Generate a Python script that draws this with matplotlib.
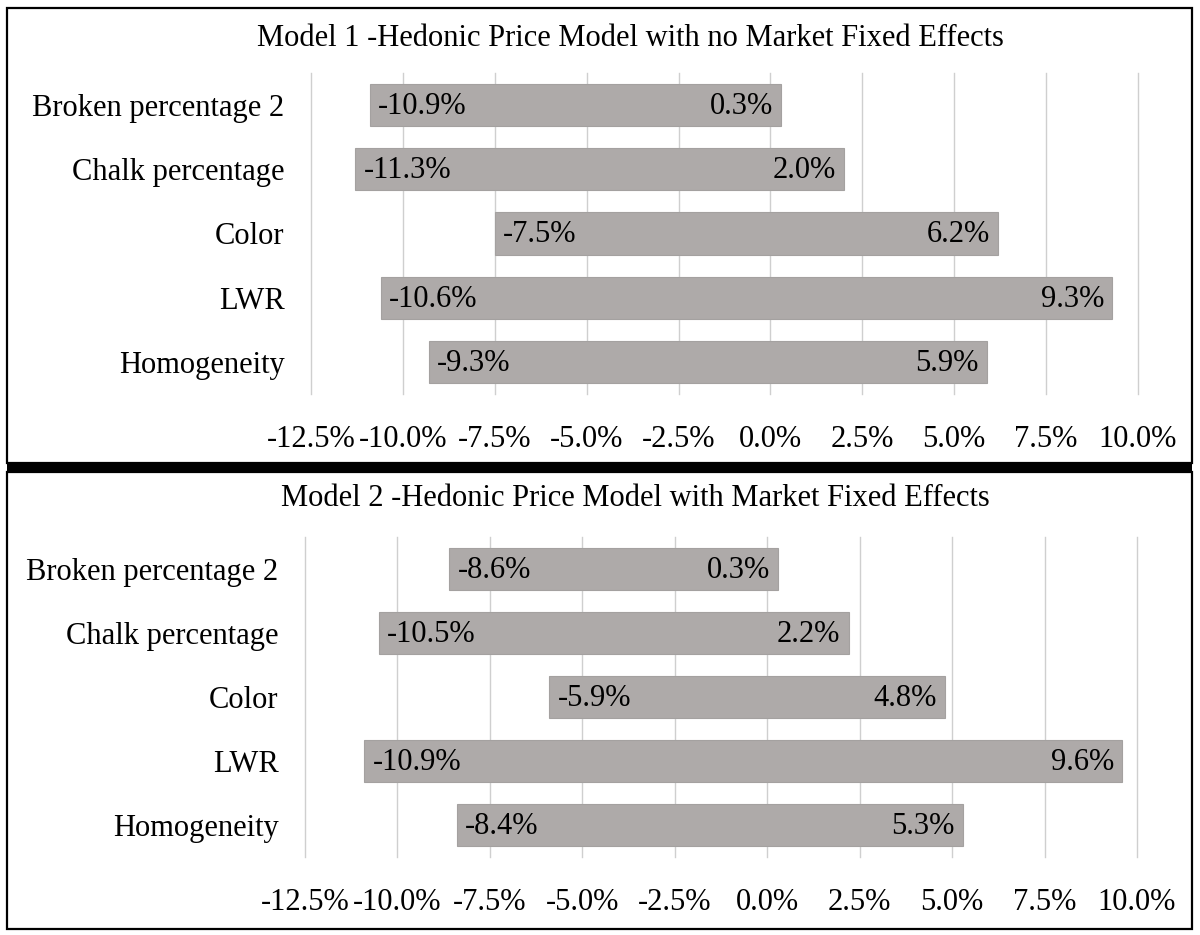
import matplotlib.pyplot as plt
from matplotlib.patches import Rectangle

plt.rcParams['font.family'] = ['Liberation Serif', 'DejaVu Serif']

# data (percent)
categories = ['Broken percentage 2', 'Chalk percentage', 'Color', 'LWR', 'Homogeneity']
m1_low = [-10.9, -11.3, -7.5, -10.6, -9.3]
m1_high = [0.3, 2.0, 6.2, 9.3, 5.9]
m2_low = [-8.6, -10.5, -5.9, -10.9, -8.4]
m2_high = [0.3, 2.2, 4.8, 9.6, 5.3]
titles = ['Model 1 -Hedonic Price Model with no Market Fixed Effects',
          'Model 2 -Hedonic Price Model with Market Fixed Effects']
xticks = [-12.5, -10.0, -7.5, -5.0, -2.5, 0.0, 2.5, 5.0, 7.5, 10.0]

W, H = 1200, 935
fig = plt.figure(figsize=(W / 100, H / 100), dpi=100)

bar_color = '#aeaaa9'
fs = 22


def px(x0, y0, x1, y1):
    # pixel box -> figure fraction [left, bottom, width, height]
    return [x0 / W, 1 - y1 / H, (x1 - x0) / W, (y1 - y0) / H]


def draw_panel(ax, low, high):
    ypos = list(range(len(categories)))
    widths = [h - l for l, h in zip(low, high)]
    ax.barh(ypos, widths, left=low, height=0.66, color=bar_color,
            edgecolor='#a4a1a0', linewidth=0.8, zorder=2)
    for y, l, h in zip(ypos, low, high):
        ax.annotate(f'{l:.1f}%', (l, y), xytext=(6, -1), textcoords='offset points',
                    ha='left', va='center', fontsize=fs, zorder=3)
        ax.annotate(f'{h:.1f}%', (h, y), xytext=(-6, -1), textcoords='offset points',
                    ha='right', va='center', fontsize=fs, zorder=3)
    ax.set_xlim(xticks[0], xticks[-1])
    ax.set_ylim(len(categories) - 0.5, -0.5)
    ax.set_xticks(xticks)
    ax.set_xticklabels([f'{t:.1f}%' for t in xticks])
    ax.set_yticks(ypos)
    ax.set_yticklabels(categories)
    ax.tick_params(axis='both', length=0, labelsize=fs)
    ax.tick_params(axis='x', pad=22)
    ax.tick_params(axis='y', pad=19)
    ax.grid(axis='x', color='#cfcfcf', linewidth=1.0, zorder=0)
    for g in ax.get_xgridlines():
        g.set_clip_on(False)
    for s in ax.spines.values():
        s.set_visible(False)


ax1 = fig.add_axes(px(311, 73, 1138, 394))
draw_panel(ax1, m1_low, m1_high)
ax2 = fig.add_axes(px(305, 537, 1137, 857))
draw_panel(ax2, m2_low, m2_high)

fig.text(630 / W, 1 - 38 / H, titles[0], ha='center', va='center', fontsize=fs)
fig.text(635 / W, 1 - 498 / H, titles[1], ha='center', va='center', fontsize=fs)

# panel frames and the thick separator
for (x0, y0, x1, y1) in [(7, 8, 1192, 463), (7, 472, 1192, 929)]:
    b = px(x0, y0, x1, y1)
    fig.add_artist(Rectangle((b[0], b[1]), b[2], b[3], transform=fig.transFigure,
                             fill=False, edgecolor='black', linewidth=1.6))
b = px(7, 462, 1192, 473)
fig.add_artist(Rectangle((b[0], b[1]), b[2], b[3], transform=fig.transFigure,
                         facecolor='black', edgecolor='none'))

fig.savefig('out.png', dpi=100, facecolor='white')
